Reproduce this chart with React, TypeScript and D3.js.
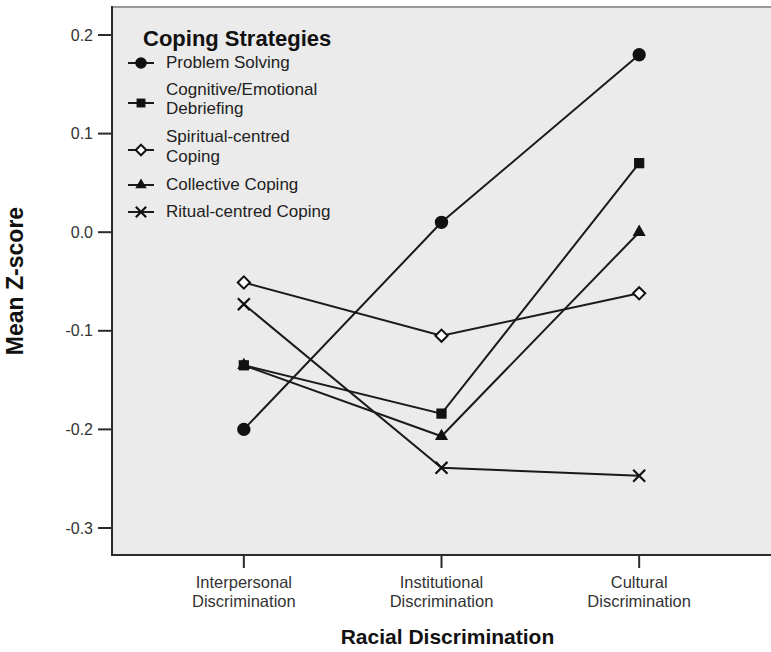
import React from "react";
import * as d3 from "d3";

const categories = ["Interpersonal Discrimination", "Institutional Discrimination", "Cultural Discrimination"];
const seriesNames = ["Problem Solving", "Cognitive/Emotional Debriefing", "Spiritual-centred Coping", "Collective Coping", "Ritual-centred Coping"];
const legendLines = [["Problem Solving"], ["Cognitive/Emotional", "Debriefing"], ["Spiritual-centred", "Coping"], ["Collective Coping"], ["Ritual-centred Coping"]];
const problemSolving = [-0.2, 0.01, 0.18];
const cognitiveDebriefing = [-0.135, -0.184, 0.07];
const spiritualCoping = [-0.051, -0.105, -0.062];
const collectiveCoping = [-0.135, -0.207, 0.0];
const ritualCoping = [-0.073, -0.239, -0.247];
const yTicks = [0.2, 0.1, 0.0, -0.1, -0.2, -0.3];

const W = 771;
const H = 652;
const left = 112;
const right = 771;
const top = 7;
const bottom = 555;

const font = "'Liberation Sans', Arial, sans-serif";

export default function App() {
  const x = d3.scalePoint<string>().domain(categories).range([left, right]).padding(0.667);
  const y = d3.scaleLinear().domain([-0.3274, 0.2284]).range([bottom, top]);
  const fmt = (v: number) => d3.format(".1f")(v).replace("\u2212", "-");

  const allSeries = [problemSolving, cognitiveDebriefing, spiritualCoping, collectiveCoping, ritualCoping];
  const line = d3
    .line<number>()
    .x((_, i) => x(categories[i])!)
    .y((d) => y(d));

  // marker shapes, one per series
  const marker = (i: number, small = false) => {
    const k = small ? 0.75 : 1;
    if (i === 0) return { d: d3.symbol(d3.symbolCircle, 140 * k)()!, fill: "#111", stroke: "none", sw: 0 };
    if (i === 1) return { d: d3.symbol(d3.symbolSquare, 105 * k)()!, fill: "#111", stroke: "none", sw: 0 };
    if (i === 2) return { d: d3.symbol(d3.symbolDiamond2, 95 * k)()!, fill: "#fff", stroke: "#111", sw: 2 };
    if (i === 3) return { d: d3.symbol(d3.symbolTriangle, 75 * k)()!, fill: "#111", stroke: "none", sw: 0 };
    return { d: d3.symbol(d3.symbolTimes, 95 * k)()!, fill: "none", stroke: "#111", sw: 2.2 };
  };

  const legendY = [63, 103, 150, 185, 212];
  const legendTextY = [[68], [95, 114], [142, 162], [190], [217]];

  return (
    <svg width={W} height={H} style={{ position: "absolute", left: 0, top: 0, background: "#fff" }}>
      {/* plot area */}
      <rect x={left} y={top} width={right - left} height={bottom - top} fill="#ebebeb" />
      <line x1={left} x2={right} y1={top} y2={top} stroke="#9a9a9a" strokeWidth={2} />
      <line x1={left} x2={left} y1={top - 1} y2={bottom + 1} stroke="#2b2b2b" strokeWidth={2} />
      <line x1={left - 1} x2={right} y1={bottom} y2={bottom} stroke="#2b2b2b" strokeWidth={2} />

      {/* y axis */}
      {yTicks.map((t) => (
        <g key={t} transform={`translate(0,${y(t)})`}>
          <line x1={98} x2={left} stroke="#2b2b2b" strokeWidth={2} />
          <text x={93} dy="0.35em" textAnchor="end" fontFamily={font} fontSize={16} fill="#333">
            {fmt(t)}
          </text>
        </g>
      ))}
      <text
        transform={`translate(23,${(top + bottom) / 2}) rotate(-90)`}
        textAnchor="middle"
        fontFamily={font}
        fontWeight="bold"
        fontSize={23}
        fill="#111"
      >
        Mean Z-score
      </text>

      {/* x axis */}
      {categories.map((c) => {
        const parts = c.split(" ");
        return (
          <g key={c} transform={`translate(${x(c)},0)`}>
            <line y1={bottom} y2={568} stroke="#2b2b2b" strokeWidth={2} />
            <text y={588} textAnchor="middle" fontFamily={font} fontSize={16.5} fill="#333">
              {parts[0]}
            </text>
            <text y={607} textAnchor="middle" fontFamily={font} fontSize={16.5} fill="#333">
              {parts[1]}
            </text>
          </g>
        );
      })}
      <text x={(left + right) / 2 + 6} y={644} textAnchor="middle" fontFamily={font} fontWeight="bold" fontSize={21} fill="#111">
        Racial Discrimination
      </text>

      {/* lines */}
      {allSeries.map((s, i) => (
        <path key={seriesNames[i]} d={line(s)!} fill="none" stroke="#1a1a1a" strokeWidth={2} />
      ))}
      {allSeries.map((s, i) =>
        s.map((v, j) => {
          const m = marker(i);
          return (
            <path
              key={`${i}-${j}`}
              d={m.d}
              transform={`translate(${x(categories[j])},${y(v)})`}
              fill={m.fill}
              stroke={m.stroke}
              strokeWidth={m.sw}
            />
          );
        })
      )}

      {/* legend */}
      <text x={143} y={46} fontFamily={font} fontWeight="bold" fontSize={22} fill="#111">
        Coping Strategies
      </text>
      {seriesNames.map((n, i) => {
        const m = marker(i, true);
        return (
          <g key={n}>
            <line x1={128} x2={154} y1={legendY[i]} y2={legendY[i]} stroke="#1a1a1a" strokeWidth={2} />
            <path d={m.d} transform={`translate(141,${legendY[i]})`} fill={m.fill} stroke={m.stroke} strokeWidth={m.sw} />
            {legendLines[i].map((t, k) => (
              <text key={t} x={166} y={legendTextY[i][k]} fontFamily={font} fontSize={17} fill="#222">
                {t}
              </text>
            ))}
          </g>
        );
      })}
    </svg>
  );
}
